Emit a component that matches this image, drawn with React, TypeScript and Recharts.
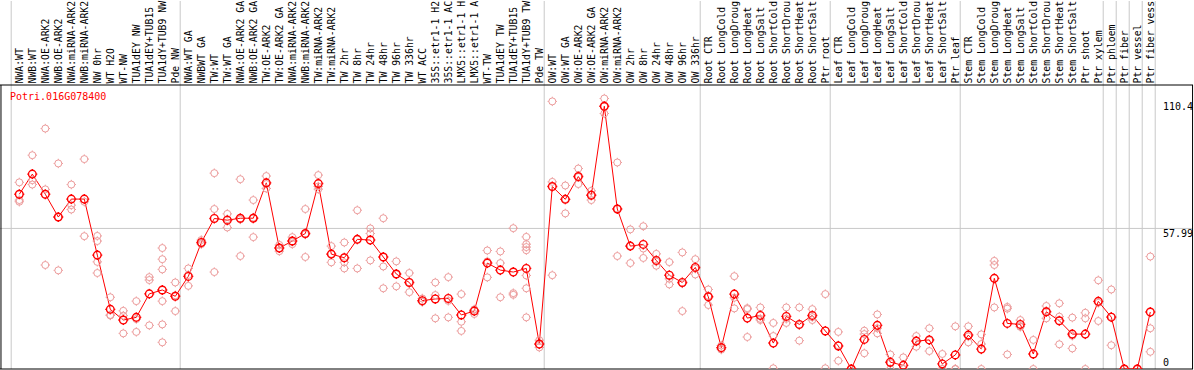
import { ComposedChart, Line, Scatter, XAxis, YAxis, ReferenceLine } from "recharts";

// sample names as printed in the header (cut to the 14 characters that fit)
const labels = [
  "NWA:WT", "NWB:WT", "NWA:OE-ARK2", "NWB:OE-ARK2", "NWA:miRNA-ARK2", "NWB:miRNA-ARK2",
  "NW 0hr", "WT H2O", "WT-NW", "TUA1dEY NW", "TUA1dEY+TUB15", "TUA1dY+TUB9 NW", "Pde NW",
  "NWA:WT GA", "NWBWT GA", "TW:WT", "TW:WT GA", "NWA:OE-ARK2 GA", "NWB:OE-ARK2 GA",
  "TW:OE-ARK2", "TW:OE-ARK2 GA", "NWA:miRNA-ARK2", "NWB:miRNA-ARK2", "TW:miRNA-ARK2",
  "TW:miRNA-ARK2", "TW 2hr", "TW 8hr", "TW 24hr", "TW 48hr", "TW 96hr", "TW 336hr", "WT ACC",
  "35S::etr1-1 H2", "35S::etr1-1 AC", "LMX5::etr1-1 H", "LMX5::etr1-1 A", "WT-TW",
  "TUA1dEY TW", "TUA1dEY+TUB15", "TUA1dY+TUB9 TW", "Pde TW",
  "OW:WT", "OW:WT GA", "OW:OE-ARK2", "OW:OE-ARK2 GA", "OW:miRNA-ARK2", "OW:miRNA-ARK2",
  "OW 2hr", "OW 8hr", "OW 24hr", "OW 48hr", "OW 96hr", "OW 336hr",
  "Root CTR", "Root LongCold", "Root LongDroug", "Root LongHeat", "Root LongSalt",
  "Root ShortCold", "Root ShortDrou", "Root ShortHeat", "Root ShortSalt", "Ptr root",
  "Leaf CTR", "Leaf LongCold", "Leaf LongDroug", "Leaf LongHeat", "Leaf LongSalt",
  "Leaf ShortCold", "Leaf ShortDrou", "Leaf ShortHeat", "Leaf ShortSalt", "Ptr leaf",
  "Stem CTR", "Stem LongCold", "Stem LongDroug", "Stem LongHeat", "Stem LongSalt",
  "Stem ShortCold", "Stem ShortDrou", "Stem ShortHeat", "Stem ShortSalt", "Ptr shoot",
  "Ptr xylem", "Ptr phloem", "Ptr fiber", "Ptr vessel", "Ptr fiber vess",
];

const means = [
  72.1, 80.4, 72.1, 62.7, 70.1, 70.1, 47.0, 24.6, 20.2, 21.3, 31.0, 32.6, 30.0,
  38.2, 52.2, 62.1, 61.4, 62.2, 62.2, 76.8, 49.9, 52.8, 55.9, 76.5, 47.4, 45.9, 53.5, 53.2,
  46.2, 39.2, 35.7, 28.2, 28.9, 29.1, 22.3, 23.9, 43.7, 40.8, 40.0, 41.5, 10.3,
  75.3, 70.0, 79.4, 71.7, 108.4, 66.0, 50.7, 51.4, 44.8, 38.7, 35.7, 41.9,
  29.8, 8.8, 30.9, 21.0, 22.1, 10.7, 21.7, 18.4, 22.1, 15.7,
  9.5, 0, 12.2, 18.0, 2.8, 1.5, 11.5, 12.0, 2.1, 5.8,
  14.0, 8.2, 37.4, 18.8, 18.4, 6.2, 23.6, 19.9, 14.4, 14.4, 27.9,
  21.4, 0, 0, 23.5,
];

const replicates = [
  [77.0, 69.7, 69.0], [88.2, 77.9, 76.1], [99.2, 74.1, 42.9], [84.8, 62.6, 40.7],
  [76.1, 67.6, 65.8], [86.6, 69.0, 54.8], [54.9, 52.8, 44.2, 39.6], [29.6, 22.3, 22.1],
  [24.0, 22.0, 14.7], [28.0, 20.6, 15.3], [37.9, 36.7, 18.0], [49.9, 45.3, 41.1, 28.0, 18.4, 11.0],
  [35.7, 30.4, 23.9],
  [41.5, 38.8, 34.3], [53.2, 51.9, 51.5], [80.8, 66.0, 40.0], [64.0, 61.8, 58.4],
  [78.3, 61.7, 46.6], [69.7, 62.5, 54.4], [79.6, 76.3, 74.5], [51.2, 49.9, 48.6],
  [54.4, 52.5, 51.5], [66.0, 55.5, 46.2], [80.0, 75.3, 74.2], [50.7, 47.5, 44.0],
  [52.2, 44.0, 41.5], [65.5, 53.5, 41.5], [58.0, 55.9, 44.8], [62.2, 42.3, 33.3],
  [44.4, 39.1, 34.1], [39.6, 35.8, 31.7], [29.1, 27.8, 27.7], [35.7, 30.5, 20.9],
  [37.9, 28.1, 21.3], [30.9, 19.5, 15.7], [24.6, 24.4, 22.7], [48.9, 44.4, 37.8],
  [48.5, 43.7, 29.6], [58.1, 31.3, 30.6], [54.5, 51.5, 50.3, 49.0, 38.6, 33.3, 21.3],
  [11.9, 10.1, 8.9],
  [110.4, 77.2, 38.7], [75.7, 70.1, 64.2], [82.7, 79.2, 76.3], [73.5, 71.9, 69.7],
  [111.6, 108.3, 105.4], [85.2, 66.2, 46.6], [57.6, 50.8, 43.7], [58.9, 49.7, 45.8],
  [47.5, 44.3, 42.6], [44.1, 37.2, 34.9], [48.1, 35.3, 23.9], [45.3, 41.4, 39.0],
  [32.8, 30.2, 26.4], [9.7, 8.6, 8.0], [38.3, 29.4, 25.0], [25.1, 24.7, 13.2],
  [25.4, 20.7, 20.2], [19.0, 13.6, 0.3], [25.4, 20.7, 19.0], [25.4, 18.1, 11.7],
  [24.7, 21.4, 20.2], [30.9, 0.3],
  [15.3, 9.8, 3.4], [0, 0, 0], [15.8, 14.4, 6.5], [22.5, 16.8, 14.7], [6.0, 2.4, 0],
  [4.8, 0, 0], [13.6, 11.7, 9.2], [16.8, 11.8, 7.4], [6.2, 0, 0], [17.6, 0, 0],
  [17.6, 13.4, 11.0], [14.3, 10.3, 0], [44.6, 42.9, 25.4], [25.6, 24.9, 6.0],
  [20.2, 17.6, 17.4], [12.0, 0], [26.0, 23.9, 20.9], [27.1, 21.6, 10.2],
  [21.2, 13.7, 8.5], [23.2, 20.9, 0], [36.6, 27.3, 19.8],
  [32.8, 21.6, 9.8], [0], [0], [46.4, 16.8, 7.1],
];

// first column index of each sample group (plus the end)
const groupStarts = [0, 13, 41, 53, 63, 73, 84, 85, 86, 87, 88];
const yTicks = [0, 57.99, 110.4];
const geneId = "Potri.016G078400";

const X_DOMAIN: [number, number] = [-1.4846, 90.284];
const Y_DOMAIN: [number, number] = [0, 151.82];
const HEADER_LINE = 117.16;
const MONO = "DejaVu Sans Mono";

const data = labels.map((name, i) => ({ i, name, mean: means[i] }));
const repPoints = replicates.flatMap((vals, i) => vals.map((v) => ({ i, v })));

function Sun({ cx, cy, color, r, sw }: { cx?: number; cy?: number; color: string; r: number; sw: number }) {
  if (cx == null || cy == null) return null;
  const o = r + 1.2;
  return (
    <g stroke={color} strokeWidth={sw} fill="none">
      <circle cx={cx} cy={cy} r={r} />
      <line x1={cx - o} y1={cy} x2={cx - r} y2={cy} />
      <line x1={cx + r} y1={cy} x2={cx + o} y2={cy} />
      <line x1={cx} y1={cy - o} x2={cx} y2={cy - r} />
      <line x1={cx} y1={cy + r} x2={cx} y2={cy + o} />
    </g>
  );
}

function TopLabel({ x, payload }: any) {
  return (
    <text
      transform={`translate(${x + 3.5},83.5) rotate(-90)`}
      fontSize={9.8}
      fontFamily={MONO}
      fill="#000"
      textAnchor="start"
    >
      {labels[payload.value]}
    </text>
  );
}

function RightTick({ x, y, payload }: any) {
  const v = payload.value;
  const dy = v === 0 ? -3.5 : 8.5;
  return (
    <text x={x - 30} y={y + dy} fontSize={10} fontFamily={MONO} fill="#000" textAnchor="start">
      {String(v)}
    </text>
  );
}

export default function App() {
  return (
    <div style={{ position: "absolute", left: 0, top: 0, width: 1194, height: 370, background: "#fff" }}>
      <ComposedChart
        width={1194}
        height={370}
        data={data}
        margin={{ top: 0, right: 0, bottom: 1, left: 0 }}
      >
        <XAxis
          dataKey="i"
          type="number"
          domain={X_DOMAIN}
          orientation="top"
          height={1}
          ticks={labels.map((_, i) => i)}
          interval={0}
          axisLine={false}
          tickLine={false}
          tick={<TopLabel />}
        />
        <YAxis
          type="number"
          domain={Y_DOMAIN}
          allowDataOverflow
          orientation="right"
          width={1}
          ticks={yTicks}
          interval={0}
          axisLine={false}
          tickLine={false}
          tickSize={0}
          tickMargin={0}
          tick={<RightTick />}
        />
        {groupStarts.map((k) => (
          <ReferenceLine key={`g${k}`} x={k - 0.623} stroke="#c8c8c8" strokeWidth={1} />
        ))}
        <ReferenceLine y={57.99} stroke="#c8c8c8" strokeWidth={1} />
        <ReferenceLine y={HEADER_LINE} stroke="#000" strokeWidth={1} />
        <ReferenceLine y={0} stroke="#000" strokeWidth={1} />
        <ReferenceLine
          segment={[{ x: -1.41, y: 0 }, { x: -1.41, y: HEADER_LINE }]}
          stroke="#000"
          strokeWidth={1}
        />
        <ReferenceLine
          segment={[{ x: 90.25, y: 0 }, { x: 90.25, y: HEADER_LINE }]}
          stroke="#000"
          strokeWidth={1}
        />
        <Scatter
          data={repPoints}
          dataKey="v"
          isAnimationActive={false}
          shape={(p: any) => <Sun cx={p.cx} cy={p.cy} color="#ec9c9c" r={3.5} sw={1} />}
        />
        <Line
          dataKey="mean"
          stroke="#ff0000"
          strokeWidth={1}
          isAnimationActive={false}
          dot={(p: any) => <Sun key={`m${p.index}`} cx={p.cx} cy={p.cy} color="#ff0000" r={3.8} sw={1.4} />}
          activeDot={false}
        />
      </ComposedChart>
      <div
        style={{
          position: "absolute",
          left: 10,
          top: 91,
          fontFamily: MONO,
          fontSize: 10,
          lineHeight: "12px",
          color: "#ff0000",
          whiteSpace: "nowrap",
        }}
      >
        {geneId}
      </div>
    </div>
  );
}
